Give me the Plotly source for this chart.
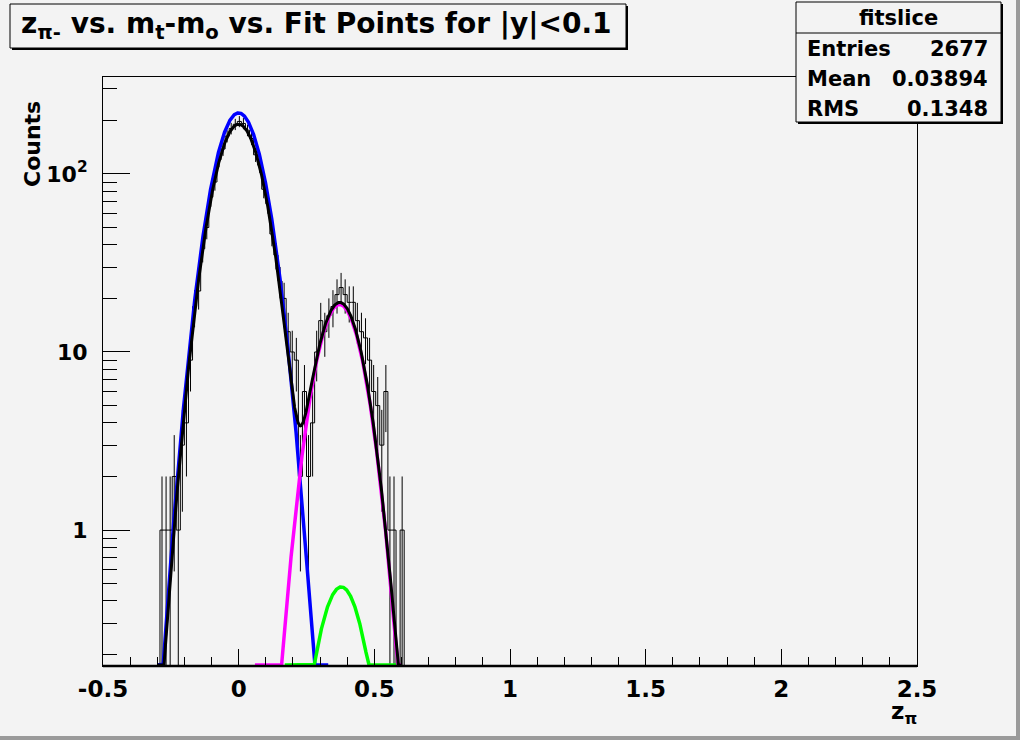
import numpy as np
import plotly.graph_objects as go

# ---------------- data ----------------
hist_low = -0.5          # histogram axis start
bin_width = 0.015        # 200 bins over [-0.5, 2.5]
n_bins = 200
first_filled_bin = 14    # index of first bin listed in `counts`
counts = [1, 1, 1, 2, 1, 3, 4, 9, 18, 22, 38, 50, 74, 90, 120, 138, 163, 180, 190, 197,
          192, 176, 158, 128, 112, 82, 68, 46, 35, 25, 20, 13, 10, 9, 2, 6, 2, 4, 10, 15,
          13, 16, 18, 21, 23, 21, 19, 19, 15, 13, 12, 9, 6, 5, 3, 6, 1, 1, 0, 1]

# fit components: (amplitude, mean, sigma, x-range)
blue_fit = dict(amp=220.0, mean=0.0, sigma=0.0736, xr=(-0.30, 0.33))
black_g1 = dict(amp=190.0, mean=0.0, sigma=0.0736)
magenta_fit = dict(amp=18.5, mean=0.372, sigma=0.070, xr=(0.06, 0.60))
green_fit = dict(amp=0.48, mean=0.378, sigma=0.070, xr=(0.17, 0.58))
black_xr = (-0.30, 0.60)

title_text = "z<sub>π-</sub> vs. m<sub>t</sub>-m<sub>o</sub> vs. Fit Points for |y|<0.1"
stats_title = "fitslice"
stats_labels = ["Entries", "Mean", "RMS"]
stats_values = ["2677", "0.03894", "0.1348"]
x_ticks = [-0.5, 0, 0.5, 1, 1.5, 2, 2.5]
x_ticktext = ["-0.5", "0", "0.5", "1", "1.5", "2", "2.5"]
y_ticks = [1, 10, 100]
y_ticktext = ["1", "10", "10<sup>2</sup>"]

# ---------------- geometry ----------------
W, H = 1020, 740
L, R, T, B = 103, 917, 77, 666
YMIN, YMAX = 0.1725, 350.0
BG = "#f3f3f3"
FONT = "DejaVu Sans"


def px(x):
    return (x - L) / (R - L)


def py(y):
    return (B - y) / (B - T)


floor_draw = 10 ** (np.log10(YMIN) + 0.006)

all_counts = np.zeros(n_bins)
all_counts[first_filled_bin:first_filled_bin + len(counts)] = counts
edges = hist_low + bin_width * np.arange(n_bins + 1)
centers = 0.5 * (edges[:-1] + edges[1:])

hy = np.where(all_counts > 0, all_counts, 0.1)
step_x = edges
step_y = np.append(hy, hy[-1])

ex, ey = [], []
for c, n in zip(centers, all_counts):
    if n > 0:
        lo = max(n - np.sqrt(n), 0.1)
        ex += [c, c, None]
        ey += [lo, n + np.sqrt(n), None]


def gauss(x, p):
    return p["amp"] * np.exp(-0.5 * ((x - p["mean"]) / p["sigma"]) ** 2)


def curve(p, xr):
    x = np.linspace(xr[0], xr[1], 800)
    return x, np.maximum(gauss(x, p), floor_draw)


fig = go.Figure()
fig.add_trace(go.Scatter(x=step_x, y=step_y, mode="lines", line=dict(color="black", width=1, shape="hv"),
                         hoverinfo="skip"))
fig.add_trace(go.Scatter(x=ex, y=ey, mode="lines", line=dict(color="black", width=1), hoverinfo="skip"))
bx, by = curve(blue_fit, blue_fit["xr"])
fig.add_trace(go.Scatter(x=bx, y=by, mode="lines", line=dict(color="#0000ff", width=3.5)))
mx, my = curve(magenta_fit, magenta_fit["xr"])
fig.add_trace(go.Scatter(x=mx, y=my, mode="lines", line=dict(color="#ff00ff", width=3.5)))
gx, gy = curve(green_fit, green_fit["xr"])
fig.add_trace(go.Scatter(x=gx, y=gy, mode="lines", line=dict(color="#00ff00", width=3.5)))
kx = np.linspace(black_xr[0], black_xr[1], 1200)
ky = gauss(kx, black_g1) + gauss(kx, magenta_fit) + gauss(kx, green_fit)
fig.add_trace(go.Scatter(x=kx, y=np.maximum(ky, floor_draw), mode="lines",
                         line=dict(color="black", width=3)))

minor_y = [v * m for m in (0.1, 1, 10) for v in range(2, 10)] + [200, 300]
minor_y = [v for v in minor_y if YMIN < v < YMAX]

fig.update_layout(
    width=W, height=H, autosize=False,
    margin=dict(l=L, r=W - R, t=T, b=H - B),
    paper_bgcolor=BG, plot_bgcolor=BG,
    showlegend=False, hovermode=False,
    font=dict(family=FONT, color="black"),
    xaxis=dict(range=[-0.5, 2.5], showgrid=False, zeroline=False, showline=True, linecolor="black",
               linewidth=1, mirror=True, ticks="inside", ticklen=17, tickwidth=1, tickcolor="black",
               tickvals=x_ticks, ticktext=["<b>%s</b>" % t for t in x_ticktext],
               tickfont=dict(family=FONT, size=23), ticklabelstandoff=2,
               minor=dict(tickvals=[round(-0.5 + 0.1 * i, 2) for i in range(31)], ticks="inside",
                          ticklen=9, tickwidth=1, tickcolor="black", showgrid=False)),
    yaxis=dict(type="log", range=[np.log10(YMIN), np.log10(YMAX)], showgrid=False, zeroline=False,
               showline=True, linecolor="black", linewidth=1, mirror=True, ticks="inside",
               ticklen=27, tickwidth=1, tickcolor="black", tickvals=y_ticks,
               ticktext=["<b>%s</b>" % t for t in y_ticktext], tickfont=dict(family=FONT, size=22),
               ticklabelstandoff=10,
               minor=dict(tickvals=minor_y, ticks="inside", ticklen=14, tickwidth=1, tickcolor="black",
                          showgrid=False)),
)

shapes = []
# thick bottom line (histogram at floor + axis)
shapes.append(dict(type="line", xref="paper", yref="paper", x0=0, x1=1, y0=0, y1=0,
                   line=dict(color="black", width=2.5)))
# title box with shadow
shapes.append(dict(type="rect", xref="paper", yref="paper", x0=px(12), x1=px(628), y0=py(6), y1=py(50),
                   fillcolor="black", line=dict(width=0)))
shapes.append(dict(type="rect", xref="paper", yref="paper", x0=px(10), x1=px(626), y0=py(4), y1=py(48),
                   fillcolor=BG, line=dict(color="black", width=1)))
# stats box with shadow
shapes.append(dict(type="rect", xref="paper", yref="paper", x0=px(798), x1=px(1003), y0=py(4), y1=py(124),
                   fillcolor="black", line=dict(width=0)))
shapes.append(dict(type="rect", xref="paper", yref="paper", x0=px(796), x1=px(1001), y0=py(2), y1=py(122),
                   fillcolor=BG, line=dict(color="black", width=1)))
shapes.append(dict(type="line", xref="paper", yref="paper", x0=px(796), x1=px(1001), y0=py(33), y1=py(33),
                   line=dict(color="black", width=1)))
# canvas bevel
shapes.append(dict(type="rect", xref="paper", yref="paper", x0=px(1016), x1=px(1020), y0=py(0), y1=py(740),
                   fillcolor="#9a9a9a", line=dict(width=0)))
shapes.append(dict(type="rect", xref="paper", yref="paper", x0=px(0), x1=px(1020), y0=py(736), y1=py(740),
                   fillcolor="#9a9a9a", line=dict(width=0)))
fig.update_layout(shapes=shapes)

ann = []


def add_text(text, x, y, size, xanchor="center", angle=0):
    ann.append(dict(text="<b>%s</b>" % text, x=px(x), y=py(y), xref="paper", yref="paper",
                    xanchor=xanchor, yanchor="middle", showarrow=False, textangle=angle,
                    font=dict(family=FONT, size=size, color="black")))


add_text(title_text, 316, 25, 28)
add_text(stats_title, 898, 18, 21)
for i, (lab, val) in enumerate(zip(stats_labels, stats_values)):
    yy = 49 + 30 * i
    add_text(lab, 805, yy, 21, xanchor="left")
    add_text(val, 990, yy, 21, xanchor="right")
add_text("Counts", 33, 144, 22, angle=-90)
add_text("z<sub>π</sub>", 904, 713, 23)
fig.update_layout(annotations=ann)

fig.write_html("out.html", config={"displayModeBar": False, "staticPlot": True},
               post_script="document.body.style.margin='0';document.body.style.background='%s';" % BG)
